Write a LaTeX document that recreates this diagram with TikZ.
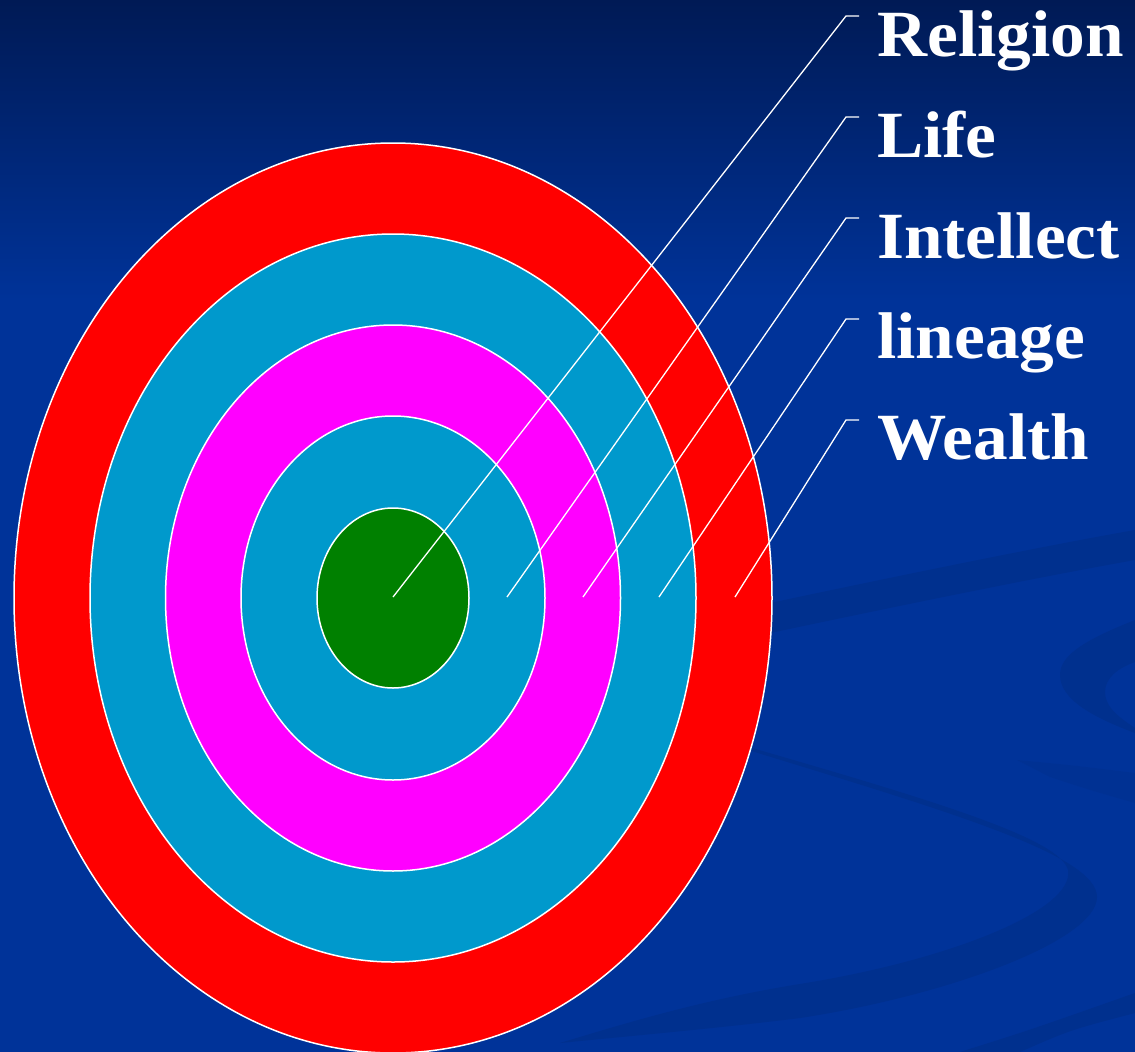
\documentclass[tikz,border=0pt]{standalone}
\usepackage{fontspec}
\setmainfont{Liberation Serif}[FakeStretch=1.05]
\definecolor{bgblue}{HTML}{003399}
\definecolor{bgtop}{HTML}{001A55}
\definecolor{swoosh}{HTML}{00308E}
\definecolor{ringred}{HTML}{FF0000}
\definecolor{ringcyan}{HTML}{0099CC}
\definecolor{ringmag}{HTML}{FF00FF}
\definecolor{ringgreen}{HTML}{008000}
\begin{document}
\begin{tikzpicture}[x=1pt,y=-1pt,
  ring/.style={draw=white,line width=1.5pt},
  leader/.style={draw=white,line width=1.3pt},
  lab/.style={text=white,font=\fontsize{66}{70}\selectfont\bfseries,anchor=base west,inner sep=0pt}]
\useasboundingbox (0,0) rectangle (1135,1052);
\clip (0,0) rectangle (1135,1052);
% background
\fill[bgblue] (0,0) rectangle (1135,1052);
\shade[top color=bgtop,bottom color=bgblue] (0,0) rectangle (1135,300);
% swooshes
\fill[swoosh] (700,618) .. controls (900,575) and (1050,545) .. (1135,530) -- (1135,560) .. controls (1050,575) and (900,605) .. (700,648) -- cycle;
\fill[swoosh] (1135,620) .. controls (1085,640) and (1060,655) .. (1060,675) .. controls (1060,700) and (1095,718) .. (1135,733) -- (1135,728) .. controls (1115,715) and (1105,705) .. (1105,692) .. controls (1105,678) and (1118,668) .. (1135,662) -- cycle;
\fill[swoosh] (745,746) .. controls (950,805) and (1060,840) .. (1068,870) .. controls (1075,910) and (950,960) .. (800,984) .. controls (700,1000) and (620,1025) .. (560,1043) .. controls (640,1035) and (720,1028) .. (800,1018) .. controls (950,995) and (1097,940) .. (1097,897) .. controls (1097,855) and (950,812) .. (745,749) -- cycle;
\fill[swoosh] (960,1052) .. controls (1030,1030) .. (1135,993) -- (1135,1013) .. controls (1070,1030) .. (1020,1052) -- cycle;
\fill[swoosh,opacity=0.5] (1017,760) .. controls (1070,765) .. (1135,773) -- (1135,803) .. controls (1090,790) .. (1050,777) -- cycle;
% rings
\coordinate (c) at (393,598);
\path[ring,fill=ringred] (c) ellipse [x radius=379pt,y radius=455pt];
\path[ring,fill=ringcyan] (c) ellipse [x radius=303pt,y radius=364pt];
\path[ring,fill=ringmag] (c) ellipse [x radius=227.5pt,y radius=273pt];
\path[ring,fill=ringcyan] (c) ellipse [x radius=152pt,y radius=182pt];
\path[ring,fill=ringgreen] (c) ellipse [x radius=76pt,y radius=90pt];
% labels
\node[lab] (l1) at (877,56) {Religion};
\node[lab] (l2) at (877,157) {Life};
\node[lab] (l3) at (877,258) {Intellect};
\node[lab] (l4) at (877,358) {lineage};
\node[lab] (l5) at (877,459) {Wealth};
% leader points
\coordinate (s1) at (393,597);
\coordinate (s2) at (507,597);
\coordinate (s3) at (583,597);
\coordinate (s4) at (659,597);
\coordinate (s5) at (735,597);
\coordinate (k1) at (846,16);
\coordinate (k2) at (846,117);
\coordinate (k3) at (846,218);
\coordinate (k4) at (846,319);
\coordinate (k5) at (846,420);
\coordinate (t1) at (859,16);
\coordinate (t2) at (859,117);
\coordinate (t3) at (859,218);
\coordinate (t4) at (859,319);
\coordinate (t5) at (859,420);
\foreach \i in {1,...,5} {\draw[leader] (s\i) -- (k\i) -- (t\i);}
\end{tikzpicture}
\end{document}
